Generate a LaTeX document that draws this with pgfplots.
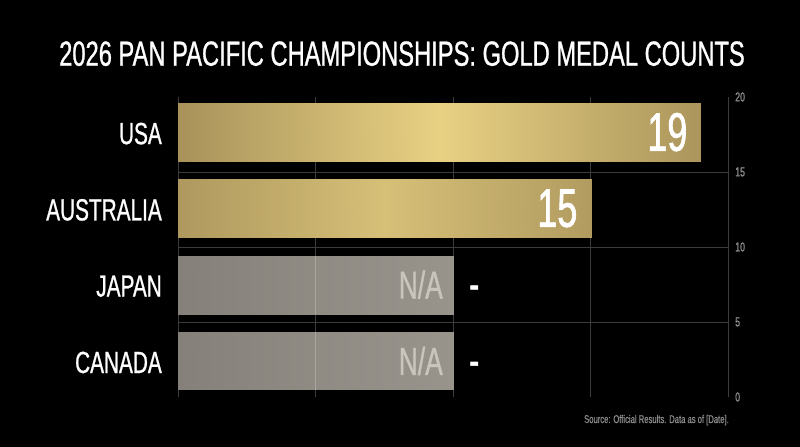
\documentclass[border=0pt]{standalone}
\usepackage{pgfplots}
\pgfplotsset{compat=1.18}
\usepackage{fontspec}
\setmainfont{Liberation Sans}[FakeStretch=0.68, FakeBold=0.8]
\newfontfamily\numfont{Liberation Sans}[FakeStretch=0.66, FakeBold=1.2]
\definecolor{goldE}{HTML}{A8925A}
\definecolor{goldM}{HTML}{E8D183}
\definecolor{grayE}{HTML}{85817A}
\definecolor{grayM}{HTML}{9A968E}
\definecolor{gridgray}{HTML}{3C3C3C}
\definecolor{tickgray}{HTML}{8F8F8F}
\definecolor{nacolor}{HTML}{C9C5BD}
\definecolor{srcgray}{HTML}{8A8A8A}
\definecolor{overline}{HTML}{ABA79F}
\begin{document}
\begin{tikzpicture}[x=1bp,y=1bp]
\fill[black] (0,0) rectangle (800,447);
% secondary axis: right-hand scale 0..20 with horizontal grid at 5,10,15
\begin{axis}[
  scale only axis, width=550bp, height=300bp,
  at={(178bp,50bp)}, anchor=south west,
  xmin=0, xmax=20, ymin=0, ymax=20,
  xtick=\empty, ytick={0,5,10,15,20},
  yticklabel pos=right,
  extra y ticks={5,10,15}, extra y tick labels={},
  extra y tick style={grid=major},
  grid style={gridgray, line width=0.9bp},
  axis line style={draw=none}, tick style={draw=none},
  yticklabel style={font=\fontsize{13}{14}\selectfont, color=tickgray, inner sep=0pt, xshift=7bp},
  /pgf/number format/assume math mode=true,
]
\end{axis}
% main axis
\begin{axis}[
  scale only axis, width=550bp, height=300bp,
  at={(178bp,50bp)}, anchor=south west,
  xmin=0, xmax=20, ymin=-0.472, ymax=3.46,
  xtick={0,5,10,15,20}, xticklabels={},
  xmajorgrids,
  grid style={gridgray, line width=0.9bp},
  ytick={0,1,2,3}, yticklabels={CANADA,JAPAN,AUSTRALIA,USA},
  yticklabel style={font=\fontsize{30.7}{32}\selectfont, color=white, inner sep=0pt, xshift=-16bp, yshift=-1.5bp},
  axis line style={draw=none}, tick style={draw=none},
  colormap={barmap}{color=(grayE) color=(grayM) color=(goldE) color=(goldM)},
  point meta min=0, point meta max=3,
  clip=false,
]
% bars: value along x (19, 15, 10, 10), each bar 0.76 high around its category;
% each bar is two shaded halves (edge -> middle -> edge)
\addplot[patch, patch type=rectangle, shader=interp, point meta=explicit] table[meta=c] {
x y c
0 2.62 2
9.5 2.62 3
9.5 3.38 3
0 3.38 2
9.5 2.62 3
19 2.62 2.05
19 3.38 2.05
9.5 3.38 3
0 1.62 2.1
7.5 1.62 2.72
7.5 2.38 2.72
0 2.38 2.1
7.5 1.62 2.72
15 1.62 2.15
15 2.38 2.15
7.5 2.38 2.72
0 0.62 0
5 0.62 0.5
5 1.38 0.5
0 1.38 0
5 0.62 0.5
10 0.62 0.9
10 1.38 0.9
5 1.38 0.5
0 -0.38 0
5 -0.38 0.5
5 0.38 0.5
0 0.38 0
5 -0.38 0.5
10 -0.38 0.9
10 0.38 0.9
5 0.38 0.5
};
% faint light gridline showing through the grey bars
\addplot[overline, line width=0.6bp, mark=none] coordinates {(5,0.62) (5,1.38)};
\addplot[overline, line width=0.6bp, mark=none] coordinates {(5,-0.38) (5,0.38)};
% value labels
\addplot[draw=none, mark=none, nodes near coords, point meta=explicit symbolic,
  every node near coord/.append style={anchor=east, xshift=-13bp, inner sep=0pt, font=\numfont\fontsize{54.5}{56}\selectfont, color=white}]
  coordinates {(19,3)[19] (15,2)[15]};
\addplot[draw=none, mark=none, nodes near coords, point meta=explicit symbolic,
  every node near coord/.append style={anchor=east, xshift=-10bp, inner sep=0pt, font=\fontsize{39}{40}\selectfont, color=nacolor}]
  coordinates {(10,1)[N/A] (10,0)[N/A]};
\addplot[draw=none, mark=none, nodes near coords, point meta=explicit symbolic,
  every node near coord/.append style={anchor=west, xshift=16bp, yshift=-8bp, inner sep=0pt, font=\numfont\fontsize{46}{48}\selectfont, color=white}]
  coordinates {(10,1)[-] (10,0)[-]};
\end{axis}
\node[anchor=base, inner sep=0pt, text=white, font=\fontsize{35}{36}\selectfont] at (402,381.3) {2026 PAN PACIFIC CHAMPIONSHIPS: GOLD MEDAL COUNTS};
\node[anchor=base east, inner sep=0pt, text=srcgray, font=\fontsize{11.3}{12}\selectfont] at (729,24) {Source: Official Results. Data as of [Date].};
\pgfresetboundingbox
\path (0,0) rectangle (800,447);
\end{tikzpicture}
\end{document}
